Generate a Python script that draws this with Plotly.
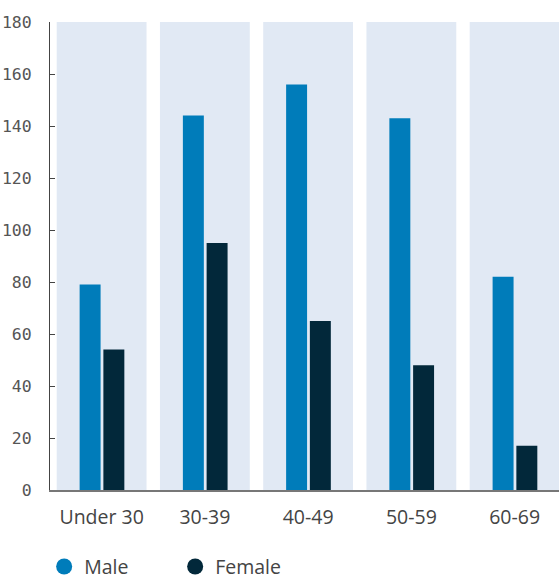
import plotly.graph_objects as go

categories = ["Under 30", "30-39", "40-49", "50-59", "60-69"]
male = [79, 144, 156, 143, 82]
female = [54, 95, 65, 48, 17]
band_max = [180, 180, 180, 180, 180]
y_ticks = [0, 20, 40, 60, 80, 100, 120, 140, 160, 180]

MALE_C = "#007cba"
FEMALE_C = "#02283a"
BAND_C = "#e1e9f4"

fig = go.Figure()
fig.add_trace(go.Bar(x=categories, y=band_max, width=0.87, offset=-0.435,
                     marker=dict(color=BAND_C, line=dict(width=0)),
                     showlegend=False, hoverinfo="skip"))
fig.add_trace(go.Bar(x=categories, y=male, width=0.203, offset=-0.213,
                     marker=dict(color=MALE_C, line=dict(width=0)),
                     name="Male", showlegend=False))
fig.add_trace(go.Bar(x=categories, y=female, width=0.203, offset=0.017,
                     marker=dict(color=FEMALE_C, line=dict(width=0)),
                     name="Female", showlegend=False))
# legend entries with circular symbols
for nm, c in [("Male", MALE_C), ("Female", FEMALE_C)]:
    fig.add_trace(go.Scatter(x=[None], y=[None], mode="markers", name=nm,
                             marker=dict(color=c, size=22, symbol="circle")))

fig.update_layout(
    width=559, height=579,
    margin=dict(l=50, r=0, t=22, b=89, autoexpand=False),
    barmode="overlay",
    plot_bgcolor="white", paper_bgcolor="white",
    font=dict(family="Open Sans, sans-serif", size=19, color="#444"),
    xaxis=dict(range=[-0.5, 4.43], showline=True, linecolor="#777", linewidth=1.5,
               ticks="", showgrid=False, zeroline=False,
               tickfont=dict(family="Open Sans", size=19.5, color="#444"),
               ticklabelstandoff=9),
    yaxis=dict(range=[0, 180], tickvals=y_ticks, showline=True, linecolor="#444",
               linewidth=1, ticks="inside", ticklen=5, tickcolor="#444",
               showgrid=False, zeroline=False,
               tickfont=dict(family="DejaVu Sans Mono", size=16.5, color="#555"),
               ticklabelstandoff=14),
    legend=dict(orientation="h", x=0.079, xref="container", xanchor="left",
                y=0.021, yref="container", yanchor="middle",
                font=dict(family="Open Sans", size=19.5, color="#444"),
                itemsizing="trace", entrywidth=86, traceorder="normal"),
    showlegend=True,
)

fig.write_html("out.html")
